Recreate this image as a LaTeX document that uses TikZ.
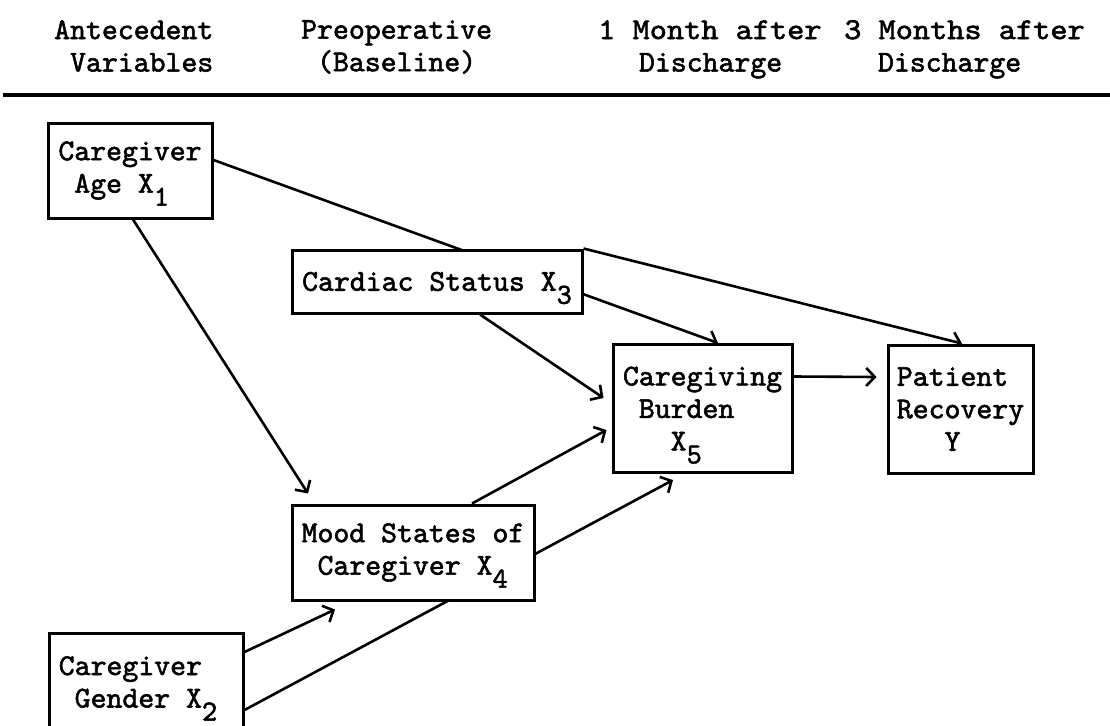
\documentclass[tikz,border=0pt]{standalone}
\usepackage{fontspec}
\newfontfamily\tw{lmmono10-regular}[Extension=.otf,FakeBold=1.8]
\usetikzlibrary{arrows.meta,backgrounds}
% lowered subscript that does not change the line box
\newcommand{\sbs}[1]{\raisebox{-13pt}[0pt][0pt]{\fontsize{29}{29}\selectfont #1}}
\newcommand{\ind}[1]{\phantom{#1}}
\newcommand{\wide}[1]{\scalebox{1.08}[1]{#1}}

\begin{document}
\begin{tikzpicture}[x=1pt,y=-1pt,
  every node/.style={font=\tw\fontsize{30.3}{32.5}\selectfont, inner sep=0pt},
  box/.style={draw, line width=3pt, fill=white, align=left},
  head/.style={anchor=north west, align=left},
  rulestyle/.style={line width=3.6pt},
  link/.style={line width=2.6pt, -{Straight Barb[length=8.5pt,width=18pt,line width=2.6pt]}}]
\useasboundingbox (0,0) rectangle (1110,725);
\clip (0,0) rectangle (1110,725);

% column headings
\node[head] (h1) at (54,20) {Antecedent\\\ind{x}Variables};
\node[head] (h2) at (301,20) {Preoperative\\\ind{x}(Baseline)};
\node[head] (h3) at (598,20) {\wide{1 Month after}\\\ind{xx}\hspace{9pt}Discharge};
\node[head] (h4) at (844,20) {\wide{3 Months after}\\\ind{xx}\hspace{2pt}Discharge};
\coordinate (rl) at (3,95);
\coordinate (rr) at (1110,95);
\draw[rulestyle] (rl) -- (rr);

% variables
\node[box, minimum width=164pt, minimum height=95pt] (age) at (130,170.5)
  {Caregiver\\\ind{x}Age X\sbs{1}};
\node[box, minimum width=290pt, minimum height=63pt] (cardiac) at (437,281.5)
  {Cardiac Status X\sbs{3}};
\node[box, minimum width=179pt, minimum height=128pt] (burden) at (702.5,408.5)
  {Caregiving\\\ind{x}Burden\\\ind{xxx}X\sbs{5}};
\node[box, minimum width=145pt, minimum height=128pt] (recovery) at (960.5,409)
  {Patient\\Recovery\\\ind{xxx}Y};
\node[box, minimum width=242pt, minimum height=95pt] (mood) at (413,552.5)
  {Mood States of\\\ind{x}Caregiver X\sbs{4}};
\node[box, minimum width=194pt, minimum height=127pt] (gender) at (146,696.5) {};
\node[align=left] (gendertext) at (138,682) {Caregiver\\\ind{x}Gender X\sbs{2}};

% paths, drawn beneath the boxes
\begin{scope}[on background layer]
  \draw[link] ([yshift=10.5pt]age.east) -- ([xshift=15.5pt]burden.north);
  \draw[link] (cardiac.north east) -- ([xshift=1.5pt]recovery.north);
  \draw[link] ([xshift=43pt]cardiac.south) -- ([xshift=-8pt,yshift=10.5pt]burden.west);
  \draw[link] ([xshift=3pt]age.south) -- ([xshift=-105pt,yshift=10pt]mood.north);
  \draw[link] ([yshift=44.5pt]gender.east) -- ([xshift=-78pt,yshift=-8pt]mood.south);
  \draw[link] ([yshift=-13.5pt]gender.east) -- ([xshift=-29.5pt,yshift=-6pt]burden.south);
  \draw[link] ([xshift=59pt]mood.north) -- ([xshift=-5pt,yshift=-21.5pt]burden.west);
  \draw[link] ([yshift=32pt]burden.east) -- ([xshift=-10pt,yshift=32pt]recovery.west);
\end{scope}
\end{tikzpicture}
\end{document}
